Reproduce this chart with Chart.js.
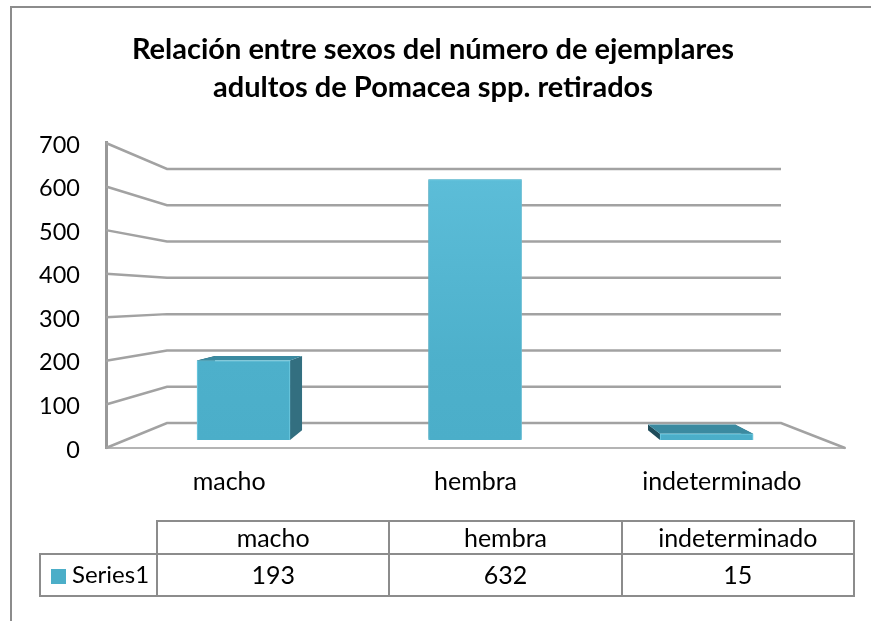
<!DOCTYPE html>
<html>
<head>
<meta charset="utf-8">
<title>Relación entre sexos</title>
<script src="https://cdn.jsdelivr.net/npm/chart.js@4/dist/chart.umd.js"></script>
<style>
  html, body { margin: 0; padding: 0; background: #fff; overflow: hidden; }
  #wrap { position: relative; width: 871px; height: 621px; }
  #frame { position: absolute; left: 10px; top: 6px; right: 0; bottom: 0; border-left: 2px solid #8c8c8c; border-top: 2px solid #8c8c8c; }
  canvas { position: absolute; left: 0; top: 0; }
  table { position: absolute; left: 39px; top: 520px; border-collapse: collapse; table-layout: fixed; width: 816px; font: 25px Lato, sans-serif; color: #000; }
  td { border: 2px solid #8c8c8c; text-align: center; padding: 0 0 1px 0; height: 30px; line-height: 28px; }
  tr:last-child td { height: 37px; padding-bottom: 3px; }
  td.blank { border: none; border-bottom: 2px solid #8c8c8c; }
  td.name { text-align: left; padding-left: 10px; white-space: nowrap; font-size: 24px; }
  .swatch { display: inline-block; width: 15px; height: 15px; background: #4baec8; margin-right: 6px; vertical-align: -1px; }
</style>
</head>
<body>
<div id="wrap">
  <div id="frame"></div>
  <canvas id="myChart" width="871" height="621"></canvas>
  <table id="dataTable"></table>
</div>
<script>
  const categories = ['macho', 'hembra', 'indeterminado'];
  const seriesName = 'Series1';
  const seriesValues = [193, 632, 15];
  const tickValues = [0, 100, 200, 300, 400, 500, 600, 700];

  const titleLines = ['Relación entre sexos del número de ejemplares', 'adultos de Pomacea spp. retirados'];

  // perspective of the fake 3D box
  const depth = 0.935, vanishX = 475, vanishY = 290;
  const backLeft = 167, backRight = 781;
  const gridColor = '#a2a2a2';

  function project(x, y) {
    return [vanishX + (x - vanishX) * depth, vanishY + (y - vanishY) * depth];
  }

  function poly(ctx, pts, color) {
    ctx.fillStyle = color;
    ctx.beginPath();
    pts.forEach((p, i) => i ? ctx.lineTo(p[0], p[1]) : ctx.moveTo(p[0], p[1]));
    ctx.closePath();
    ctx.fill();
  }

  const box3d = {
    id: 'box3d',
    beforeDatasetsDraw(chart) {
      const ctx = chart.ctx;
      const area = chart.chartArea;
      const yFront = chart.scales.y, yBack = chart.scales.yBack;

      // walls and floor
      ctx.save();
      ctx.strokeStyle = gridColor;
      ctx.lineWidth = 2.5;
      tickValues.forEach(v => {
        ctx.beginPath();
        ctx.moveTo(area.left, yFront.getPixelForValue(v));
        ctx.lineTo(backLeft, yBack.getPixelForValue(v));
        ctx.lineTo(backRight, yBack.getPixelForValue(v));
        if (v === 0) ctx.lineTo(area.right, yFront.getPixelForValue(v));
        ctx.stroke();
      });
      ctx.restore();

      // side and top faces of each bar, the front face is the real bar
      chart.getDatasetMeta(0).data.forEach(bar => {
        const l = bar.x - bar.width / 2, r = bar.x + bar.width / 2;
        const t = bar.y, b = bar.base;
        poly(ctx, [[l, t], project(l, t), project(l, b), [l, b]], '#1f4c5a');
        poly(ctx, [[r, t], project(r, t), project(r, b), [r, b]], '#336f80');
        poly(ctx, [[l, t], project(l, t), project(r, t), [r, t]], '#3b8aa0');
      });
    }
  };

  function frontFill(c) {
    const s = c.chart.scales.yBar;
    const y0 = s ? s.getPixelForValue(632) : NaN, y1 = s ? s.getPixelForValue(0) : NaN;
    if (!isFinite(y0) || !isFinite(y1)) return '#4baec8';
    const g = c.chart.ctx.createLinearGradient(0, y0, 0, y1);
    g.addColorStop(0, '#5cbdd8');
    g.addColorStop(0.7, '#4db0cb');
    g.addColorStop(1, '#4baec9');
    return g;
  }

  const myChart = new Chart('myChart', {
    type: 'bar',
    data: {
      labels: categories,
      datasets: [{
        label: seriesName,
        data: seriesValues.map((v, i) => ({ x: i, y: v })),
        xAxisID: 'xBar',
        yAxisID: 'yBar',
        backgroundColor: frontFill,
        borderColor: '#72cde3',
        borderWidth: 1,
        barThickness: 93
      }]
    },
    options: {
      responsive: false,
      animation: false,
      layout: { padding: { top: 0, left: 0, right: 5, bottom: 0 } },
      plugins: {
        legend: { display: false },
        tooltip: { enabled: false },
        title: {
          display: true,
          text: titleLines,
          color: '#000',
          font: { family: 'Lato', size: 29, weight: 'bold', lineHeight: 1.31 },
          padding: { top: 31, bottom: 36 }
        }
      },
      scales: {
        x: {
          type: 'category',
          grid: { display: false },
          border: { color: '#b4b4b4', width: 2 },
          ticks: { color: '#000', font: { family: 'Lato', size: 25 }, padding: 11, maxRotation: 0 },
          afterFit(s) { s.height = 173; }
        },
        y: {
          min: 0,
          max: 700,
          grid: { display: false },
          border: { color: '#999', width: 3 },
          ticks: { stepSize: 100, color: '#000', font: { family: 'Lato', size: 23.5 }, padding: 18, labelOffset: 2 },
          afterFit(s) { s.width = 106; }
        },
        // bars sit on a plane between the front edge and the back wall
        xBar: { type: 'linear', display: false, offset: false, min: -0.594, max: 2.598 },
        yBar: { display: false, min: -19.4, max: 720.9 },
        yBack: {
          position: 'right',
          min: -68.9,
          max: 771.6,
          grid: { display: false },
          border: { display: false },
          ticks: { display: false },
          afterFit(s) { s.width = 21; }
        }
      }
    },
    plugins: [box3d]
  });

  // data table under the chart
  const table = document.getElementById('dataTable');
  table.innerHTML =
    '<colgroup><col style="width:117px"><col><col><col></colgroup>' +
    '<tr><td class="blank"></td>' + categories.map(c => '<td>' + c + '</td>').join('') + '</tr>' +
    '<tr><td class="name"><span class="swatch"></span>' + seriesName + '</td>' +
    seriesValues.map(v => '<td>' + v + '</td>').join('') + '</tr>';
</script>
</body>
</html>
